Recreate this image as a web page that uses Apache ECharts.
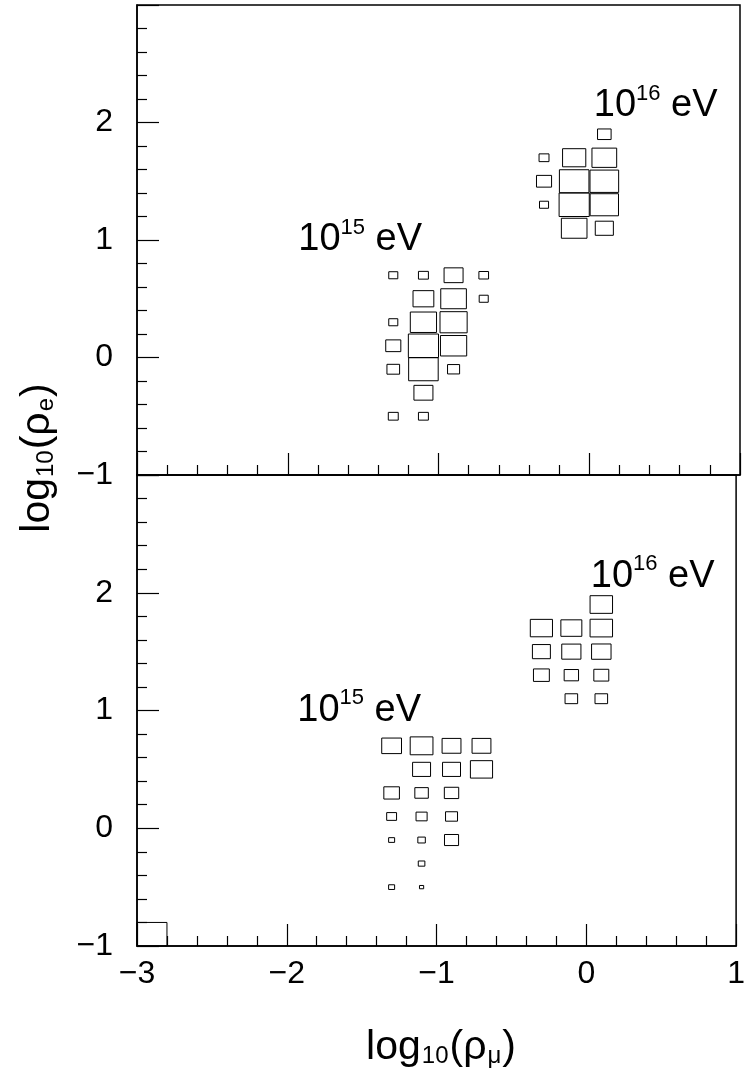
<!DOCTYPE html>
<html>
<head>
<meta charset="utf-8">
<script src="https://cdn.jsdelivr.net/npm/echarts@6/dist/echarts.min.js"></script>
<style>
  html, body { margin: 0; padding: 0; background: #fff; }
  #chart { width: 748px; height: 1082px; }
</style>
</head>
<body>
<div id="chart"></div>
<script>
// box plot bins: [log10(rho_mu) centre, log10(rho_e) centre, relative box size]
var top15 = [
  [-1.3, 0.7, 0.3], [-1.1, 0.7, 0.33], [-0.9, 0.7, 0.63], [-0.7, 0.7, 0.32],
  [-1.1, 0.5, 0.69], [-0.9, 0.5, 0.85], [-0.7, 0.5, 0.3],
  [-1.3, 0.3, 0.3], [-1.1, 0.3, 0.87], [-0.9, 0.3, 0.9],
  [-1.3, 0.1, 0.5], [-1.1, 0.1, 1.0], [-0.9, 0.1, 0.87],
  [-1.3, -0.1, 0.42], [-1.1, -0.1, 0.98], [-0.9, -0.1, 0.4],
  [-1.1, -0.3, 0.63],
  [-1.3, -0.5, 0.33], [-1.1, -0.5, 0.33]
];
var top16 = [
  [0.1, 1.9, 0.45],
  [-0.3, 1.7, 0.33], [-0.1, 1.7, 0.77], [0.1, 1.7, 0.82],
  [-0.3, 1.5, 0.5], [-0.1, 1.5, 0.98], [0.1, 1.5, 0.95],
  [-0.3, 1.3, 0.3], [-0.1, 1.3, 1.0], [0.1, 1.3, 0.94],
  [-0.1, 1.1, 0.85], [0.1, 1.1, 0.6]
];
var bottom15 = [
  [-1.3, 0.7, 0.66], [-1.1, 0.7, 0.76], [-0.9, 0.7, 0.63], [-0.7, 0.7, 0.63],
  [-1.1, 0.5, 0.6], [-0.9, 0.5, 0.6], [-0.7, 0.5, 0.74],
  [-1.3, 0.3, 0.52], [-1.1, 0.3, 0.45], [-0.9, 0.3, 0.48],
  [-1.3, 0.1, 0.33], [-1.1, 0.1, 0.37], [-0.9, 0.1, 0.4],
  [-1.3, -0.1, 0.2], [-1.1, -0.1, 0.25], [-0.9, -0.1, 0.47],
  [-1.1, -0.3, 0.22],
  [-1.3, -0.5, 0.2], [-1.1, -0.5, 0.14]
];
var bottom16 = [
  [0.1, 1.9, 0.75],
  [-0.3, 1.7, 0.74], [-0.1, 1.7, 0.7], [0.1, 1.7, 0.75],
  [-0.3, 1.5, 0.6], [-0.1, 1.5, 0.64], [0.1, 1.5, 0.65],
  [-0.3, 1.3, 0.53], [-0.1, 1.3, 0.48], [0.1, 1.3, 0.5],
  [-0.1, 1.1, 0.42], [0.1, 1.1, 0.42]
];
var bottomCorner = [[-2.9, -0.9, 1.0]];

// energy labels: [x, y, exponent]
var energyLabels = [[-1.93, 0.84, '15'], [0.03, 1.98, '16']];

var binW = 0.2, binH = 0.2;
var font = 'Liberation Sans, Arial, sans-serif';

function minus(v) {
  return String(v).replace('-', '\u2212');
}

function renderBox(params, api) {
  var c = api.coord([api.value(0), api.value(1)]);
  var s = api.size([binW, binH]);
  var f = api.value(2);
  var w = s[0] * f, h = s[1] * f;
  return {
    type: 'rect',
    shape: { x: c[0] - w / 2, y: c[1] - h / 2, width: w, height: h },
    style: { fill: 'none', stroke: '#000', lineWidth: 1 }
  };
}

function boxSeries(data, idx) {
  return {
    type: 'custom',
    xAxisIndex: idx,
    yAxisIndex: idx,
    renderItem: renderBox,
    data: data,
    silent: true
  };
}

function labelSeries(idx) {
  return {
    type: 'scatter',
    xAxisIndex: idx,
    yAxisIndex: idx,
    symbolSize: 0,
    silent: true,
    itemStyle: { opacity: 1 },
    data: energyLabels,
    label: {
      show: true,
      position: [0, 0],
      align: 'left',
      verticalAlign: 'bottom',
      color: '#000',
      opacity: 1,
      formatter: function (p) {
        return '{b|10}{s|' + p.data[2] + '}{b| eV}';
      },
      rich: {
        b: { fontSize: 38, fontFamily: font, color: '#000', lineHeight: 42, verticalAlign: 'bottom' },
        s: { fontSize: 22, fontFamily: font, color: '#000', lineHeight: 42, verticalAlign: 'top' }
      }
    }
  };
}

function xAxis(idx, showLabels) {
  return {
    type: 'value',
    gridIndex: idx,
    min: -3, max: 1, interval: 1,
    axisLine: { show: true, onZero: false, lineStyle: { color: '#000', width: 1.5 } },
    axisTick: { show: true, inside: true, length: 22, lineStyle: { color: '#000', width: 1.2 } },
    minorTick: { show: true, splitNumber: 5, length: 10, lineStyle: { color: '#000', width: 1.2 } },
    axisLabel: {
      show: showLabels, color: '#000', fontSize: 32, fontFamily: font, margin: 12,
      formatter: minus
    },
    splitLine: { show: false }
  };
}

function yAxis(idx) {
  return {
    type: 'value',
    gridIndex: idx,
    min: -1, max: 3, interval: 1,
    axisLine: { show: true, onZero: false, lineStyle: { color: '#000', width: 1.5 } },
    axisTick: { show: true, inside: true, length: 22, lineStyle: { color: '#000', width: 1.2 } },
    minorTick: { show: true, splitNumber: 5, length: 10, lineStyle: { color: '#000', width: 1.2 } },
    axisLabel: {
      color: '#000', fontSize: 32, fontFamily: font, margin: 24,
      formatter: function (v) { return v === 3 ? '' : minus(v); }
    },
    splitLine: { show: false }
  };
}

var titleRich = {
  a: { fontSize: 41, fontFamily: font, fill: '#000', lineHeight: 44, verticalAlign: 'bottom' },
  s: { fontSize: 24, fontFamily: font, fill: '#000', lineHeight: 32, verticalAlign: 'bottom', padding: [0, 1, 0, 1] }
};

var chart = echarts.init(document.getElementById('chart'));
chart.setOption({
  animation: false,
  backgroundColor: '#fff',
  grid: [
    { left: 137, top: 5, width: 603, height: 470, show: true, borderColor: '#000', borderWidth: 1.5 },
    { left: 137, top: 475, width: 603, height: 471, show: true, borderColor: '#000', borderWidth: 1.5 }
  ],
  xAxis: [xAxis(0, false), xAxis(1, true)],
  yAxis: [yAxis(0), yAxis(1)],
  graphic: [
    {
      type: 'text',
      x: 441, y: 1046,
      style: {
        text: '{a|log}{s|10}{a|(\u03c1}{s|\u03bc}{a|)}',
        align: 'center', verticalAlign: 'middle',
        rich: titleRich
      }
    },
    {
      type: 'text',
      x: 36, y: 458,
      rotation: Math.PI / 2,
      style: {
        text: '{a|log}{s|10}{a|(\u03c1}{s|e}{a|)}',
        align: 'center', verticalAlign: 'middle',
        rich: titleRich
      }
    }
  ],
  series: [
    boxSeries(top15, 0),
    boxSeries(top16, 0),
    boxSeries(bottom15, 1),
    boxSeries(bottom16, 1),
    boxSeries(bottomCorner, 1),
    labelSeries(0),
    labelSeries(1)
  ]
});
</script>
</body>
</html>
